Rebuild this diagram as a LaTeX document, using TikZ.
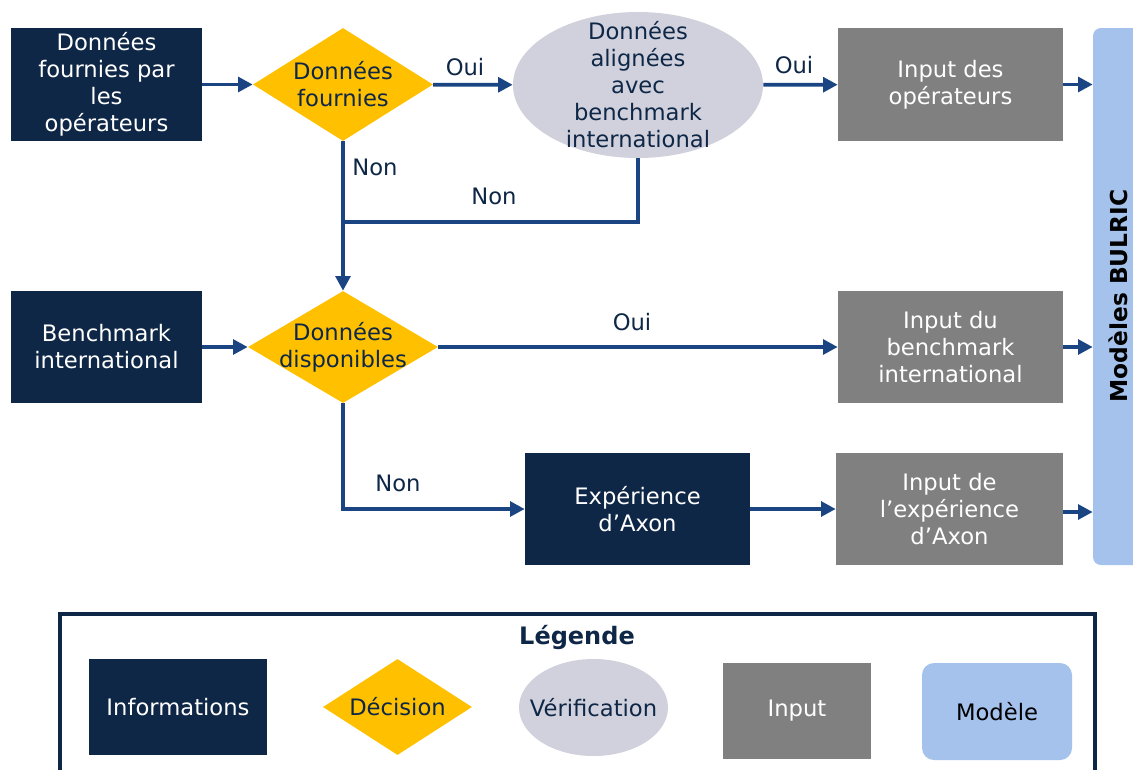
\documentclass[tikz,border=0pt]{standalone}
\usepackage{fontspec}
\setmainfont{DejaVu Sans}
\usetikzlibrary{shapes.geometric,arrows.meta}
\definecolor{navy}{HTML}{0F2747}
\definecolor{arrowblue}{HTML}{1B4483}
\definecolor{gold}{HTML}{FFC000}
\definecolor{verifgray}{HTML}{D0D1DC}
\definecolor{inputgray}{HTML}{808080}
\definecolor{modelblue}{HTML}{A4C2EC}
\newdimen\pxu \pxu=0.75pt
\tikzset{
  basefont/.style={font=\fontsize{17}{20.25}\selectfont},
  box/.style={rectangle, inner sep=0pt, align=center, basefont},
  info/.style={box, fill=navy, text=white},
  inp/.style={box, fill=inputgray, text=white},
  dec/.style={diamond, fill=gold, inner sep=0pt},
  verif/.style={ellipse, fill=verifgray, inner sep=0pt},
  txtnavy/.style={inner sep=0pt, align=center, basefont, text=navy},
  lbl/.style={inner sep=0pt, basefont, text=navy},
  ln/.style={draw=arrowblue, line width=2.8pt},
  arr/.style={ln, -{Triangle[length=11pt,width=11pt]}}
}
\begin{document}
\begin{tikzpicture}[x=0.75pt,y=-0.75pt]
\path[use as bounding box] (0,0) rectangle (1133,769);
\clip (0,0) rectangle (1133,769);
\fill[white] (0,0) rectangle (1133,769);

% row 1
\node[info, minimum width=191\pxu, minimum height=113\pxu] (A) at (106.5,84.5) {Données\\fournies par\\les\\opérateurs};
\node[dec, minimum width=180\pxu, minimum height=113\pxu] (D1) at (343,84.5) {};
\node[txtnavy] (D1t) at (D1) {Données\\fournies};
\node[verif, minimum width=250\pxu, minimum height=146\pxu] (E) at (638,85) {};
\node[txtnavy] (Et) at (E) {Données\\alignées\\avec\\benchmark\\international};
\node[inp, minimum width=225\pxu, minimum height=113\pxu] (I1) at (950.5,84.5) {Input des\\opérateurs};

% model bar
\node[rectangle, fill=modelblue, rounded corners=8\pxu, minimum width=60\pxu, minimum height=537\pxu, inner sep=0pt] (M) at (1123,296.5) {};
\node[rotate=90, inner sep=0pt, font=\fontsize{17.5}{20}\selectfont\bfseries, text=black] (Mt) at (1118,296) {Modèles BULRIC};

% row 2
\node[info, minimum width=191\pxu, minimum height=112\pxu] (B) at (106.5,347) {Benchmark\\international};
\node[dec, minimum width=190\pxu, minimum height=112\pxu] (D2) at (343,347) {};
\node[txtnavy] (D2t) at (D2) {Données\\disponibles};
\node[inp, minimum width=225\pxu, minimum height=112\pxu] (I2) at (950.5,347) {Input du\\benchmark\\international};

% row 3
\node[info, minimum width=225\pxu, minimum height=112\pxu] (X) at (637.5,509) {Expérience\\d’Axon};
\node[inp, minimum width=227\pxu, minimum height=112\pxu] (I3) at (949.5,509) {Input de\\l’expérience\\d’Axon};

\coordinate (J) at (343,222);

% connectors
\draw[arr] (A) -- (D1);
\draw[arr] (D1) -- (E);
\draw[arr] (E) -- (I1);
\draw[arr] (I1.east) -- (I1.east -| M.west);
\draw[arr] (D1.south) -- (D2.north);
\draw[ln] (E.south) |- (J);
\draw[arr] (B) -- (D2);
\draw[arr] (D2) -- (I2);
\draw[arr] (I2.east) -- (I2.east -| M.west);
\draw[arr] (D2.south) |- (X.west);
\draw[arr] (X) -- (I3);
\draw[arr] ([yshift=-3\pxu]I3.east) -- ([yshift=-3\pxu]I3.east -| M.west);

% labels
\node[lbl] (l1) at (465,67) {Oui};
\node[lbl] (l2) at (794,65) {Oui};
\node[lbl] (l3) at (375,167) {Non};
\node[lbl] (l4) at (494,196) {Non};
\node[lbl] (l5) at (632,322) {Oui};
\node[lbl] (l6) at (398,483) {Non};

% legend
\draw[navy, line width=2.4pt] (60,614) rectangle (1095,800);
\node[inner sep=0pt, font=\fontsize{18}{21}\selectfont\bfseries, text=navy] (LT) at (577,637) {Légende};
\node[info, minimum width=178\pxu, minimum height=96\pxu] (LI) at (178,707) {Informations};
\node[dec, minimum width=149\pxu, minimum height=96\pxu] (LD) at (397.5,707) {};
\node[txtnavy] (LDt) at (LD) {Décision};
\node[verif, minimum width=149\pxu, minimum height=97\pxu] (LV) at (593.5,707.5) {};
\node[txtnavy] (LVt) at (LV) {Vérification};
\node[inp, minimum width=148\pxu, minimum height=96\pxu] (LP) at (797,711) {Input};
\node[box, fill=modelblue, rounded corners=12\pxu, minimum width=150\pxu, minimum height=97\pxu, text=black] (LM) at (997,711.5) {Modèle};
\end{tikzpicture}
\end{document}
